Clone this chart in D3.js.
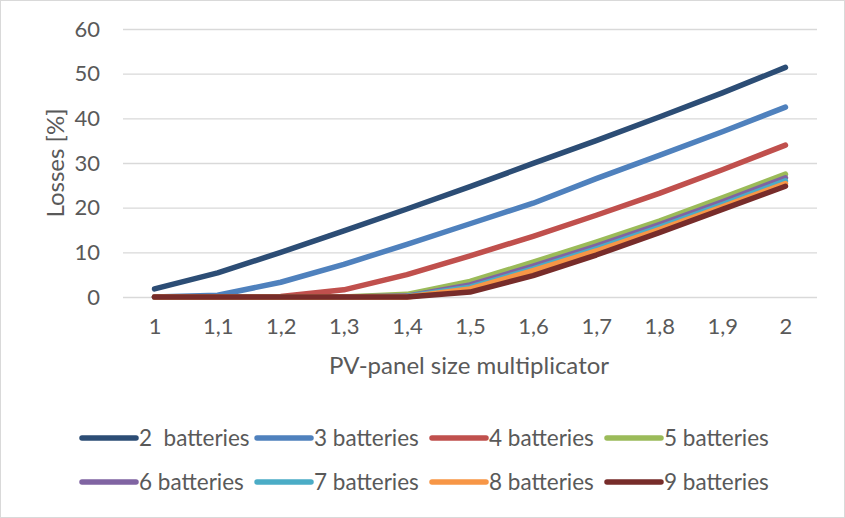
<!DOCTYPE html>
<html>
<head>
<meta charset="utf-8">
<script src="https://cdn.jsdelivr.net/npm/d3@7"></script>
<style>
  html, body { margin: 0; padding: 0; background: #fff; }
  svg { display: block; }
  text { font-family: Lato, "Open Sans", sans-serif; fill: #595959; }
</style>
</head>
<body>
<svg id="chart" width="845" height="518"></svg>
<script>
// PV-panel size multiplicators on the x axis
const categories = ["1", "1,1", "1,2", "1,3", "1,4", "1,5", "1,6", "1,7", "1,8", "1,9", "2"];
const yTicks = [0, 10, 20, 30, 40, 50, 60];

// Losses [%] per battery count
const bat2 = [1.8, 5.4, 10.0, 14.8, 19.7, 24.7, 29.9, 35.0, 40.3, 45.7, 51.4];
const bat3 = [0, 0.4, 3.3, 7.3, 11.8, 16.4, 21.0, 26.5, 31.7, 37.0, 42.5];
const bat4 = [0, 0, 0.1, 1.6, 5.0, 9.2, 13.6, 18.3, 23.2, 28.5, 34.0];
const bat5 = [0, 0, 0, 0, 0.6, 3.5, 7.8, 12.3, 17.0, 22.2, 27.5];
const bat6 = [0, 0, 0, 0, 0.2, 2.7, 6.9, 11.4, 16.2, 21.3, 26.7];
const bat7 = [0, 0, 0, 0, 0.1, 2.2, 6.3, 10.8, 15.6, 20.7, 26.0];
const bat8 = [0, 0, 0, 0, 0, 1.8, 5.9, 10.3, 15.1, 20.2, 25.4];
const bat9 = [0, 0, 0, 0, 0, 1.1, 4.8, 9.4, 14.4, 19.6, 24.8];

const seriesNames = ["2  batteries", "3 batteries", "4 batteries", "5 batteries",
                     "6 batteries", "7 batteries", "8 batteries", "9 batteries"];
const seriesValues = [bat2, bat3, bat4, bat5, bat6, bat7, bat8, bat9];
const colors = ["#2c4d75", "#4f81bd", "#c0504d", "#9bbb59",
                "#8064a2", "#4bacc6", "#f79646", "#772c2a"];

const svg = d3.select("#chart");
const W = 845, H = 518;

// outer frame
svg.append("rect")
  .attr("x", 0.5).attr("y", 0.5)
  .attr("width", W - 1).attr("height", H - 1)
  .attr("fill", "#fff").attr("stroke", "#d9d9d9").attr("stroke-width", 1);

const plot = { left: 123, right: 817, top: 29, bottom: 297 };

const x = d3.scalePoint()
  .domain(categories)
  .range([plot.left, plot.right])
  .padding(0.5);

const y = d3.scaleLinear()
  .domain([0, 60])
  .range([plot.bottom, plot.top]);

// horizontal gridlines
svg.append("g")
  .attr("transform", `translate(${plot.left},0)`)
  .call(d3.axisLeft(y).tickValues(yTicks).tickSize(-(plot.right - plot.left)).tickFormat(""))
  .call(g => g.select(".domain").remove())
  .call(g => g.selectAll("line").attr("stroke", "#d9d9d9").attr("stroke-width", 1.3));

// y tick labels
svg.append("g")
  .attr("transform", `translate(${plot.left},0)`)
  .call(d3.axisLeft(y).tickValues(yTicks).tickSize(0).tickPadding(23))
  .call(g => g.select(".domain").remove())
  .call(g => g.selectAll("text")
    .style("font-size", "22px").attr("fill", "#595959"));

// x tick labels
svg.append("g")
  .attr("transform", `translate(0,${plot.bottom})`)
  .call(d3.axisBottom(x).tickSize(0).tickPadding(21))
  .call(g => g.select(".domain").remove())
  .call(g => g.selectAll("text")
    .style("font-size", "22px").attr("fill", "#595959"));

// axis titles
svg.append("text")
  .attr("x", 469).attr("y", 374)
  .attr("text-anchor", "middle")
  .style("font-size", "24px")
  .text("PV-panel size multiplicator");

svg.append("text")
  .attr("transform", "translate(64,163) rotate(-90)")
  .attr("text-anchor", "middle")
  .style("font-size", "24px")
  .text("Losses [%]");

// series lines
const line = d3.line()
  .x((d, i) => x(categories[i]))
  .y(d => y(d));

svg.append("g")
  .selectAll("path")
  .data(seriesValues)
  .join("path")
  .attr("d", d => line(d))
  .attr("fill", "none")
  .attr("stroke", (d, i) => colors[i])
  .attr("stroke-width", 5.5)
  .attr("stroke-linecap", "round")
  .attr("stroke-linejoin", "round");

// legend: two rows of four
const legend = svg.append("g");
const item = legend.selectAll("g")
  .data(seriesNames)
  .join("g")
  .attr("transform", (d, i) => `translate(${82 + (i % 4) * 175},${438 + Math.floor(i / 4) * 44})`);

item.append("line")
  .attr("x1", 0).attr("x2", 54)
  .attr("y1", 0).attr("y2", 0)
  .attr("stroke", (d, i) => colors[i])
  .attr("stroke-width", 5.5)
  .attr("stroke-linecap", "round");

item.append("text")
  .attr("x", 57).attr("y", 8)
  .style("font-size", "22.5px")
  .style("white-space", "pre")
  .text(d => d);
</script>
</body>
</html>
